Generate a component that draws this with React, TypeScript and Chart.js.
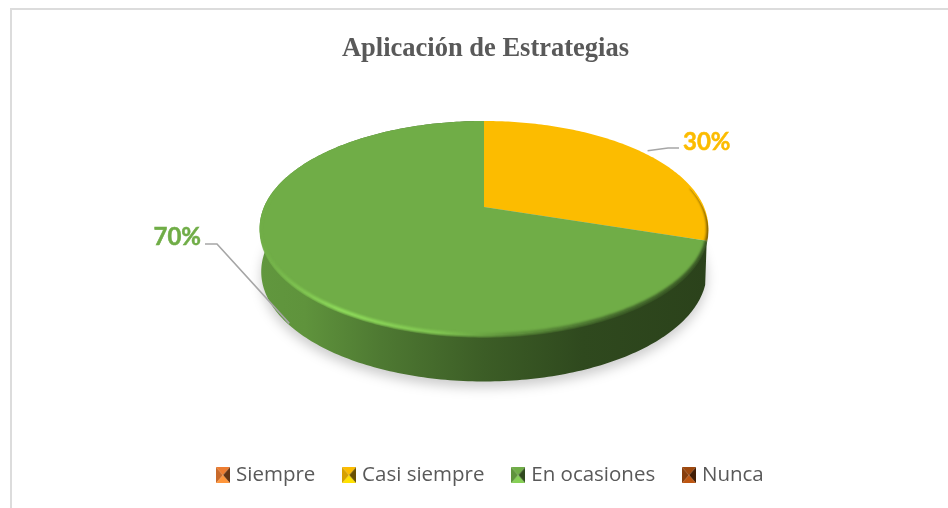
import React, { useEffect, useRef } from "react";
import { Chart, registerables } from "chart.js";

Chart.register(...registerables);

const categories = ["Siempre", "Casi siempre", "En ocasiones", "Nunca"];
const values = [0, 30, 70, 0];
const sliceColors = ["#ED7D31", "#FCBC00", "#70AD47", "#9E480E"];
const titleText = "Aplicación de Estrategias";

// Perspective view of the disc: unit circle -> screen
const VIEW = { cx: 484, a: 220, k: -0.196, A: 62.3, B: 207, depth: 43, depthFront: 3.5 };
const project = (ang: number, bottom = false) => {
  const u = Math.cos(ang), v = Math.sin(ang);
  const d = 1 + VIEW.k * v;
  const sx = bottom ? 0.993 : 1;
  const x = VIEW.cx + (VIEW.a * sx * u) / d;
  let y = (VIEW.A * v + VIEW.B) / d;
  if (bottom) y += VIEW.depth + VIEW.depthFront * v;
  return { x, y };
};

const rgb = (hex: string) => [1, 3, 5].map((i) => parseInt(hex.slice(i, i + 2), 16));
const shade = (hex: string, f: number) => {
  const [r, g, b] = rgb(hex).map((c) => Math.max(0, Math.min(255, Math.round(c * f))));
  return `rgb(${r},${g},${b})`;
};

const swatch = (hex: string) => {
  const c = document.createElement("canvas");
  const w = 14, h = 16;
  c.width = w; c.height = h;
  const x = c.getContext("2d")!;
  const tri = (ax: number, ay: number, bx: number, by: number, f: number) => {
    x.fillStyle = shade(hex, f);
    x.beginPath(); x.moveTo(ax, ay); x.lineTo(bx, by); x.lineTo(w / 2, h / 2); x.closePath(); x.fill();
  };
  tri(0, 0, w, 0, 1.0);
  tri(0, 0, 0, h, 0.85);
  tri(w, 0, w, h, 0.42);
  tri(0, h, w, h, 1.2);
  return c;
};

const tracePath = (ctx: CanvasRenderingContext2D, a0: number, a1: number, bottom: boolean, start = true) => {
  const n = Math.max(2, Math.ceil(Math.abs(a1 - a0) * 60));
  for (let i = 0; i <= n; i++) {
    const p = project(a0 + ((a1 - a0) * i) / n, bottom);
    if (i === 0 && start) ctx.moveTo(p.x, p.y);
    else ctx.lineTo(p.x, p.y);
  }
};

const discPlugin = {
  id: "disc3d",
  beforeDraw(chart: any) {
    if (chart.legend) {
      chart.legend.left = 0;
      chart.legend.right = 984;
      chart.legend.top = 434;
    }
  },
  beforeDatasetDraw(chart: any) {
    const ctx: CanvasRenderingContext2D = chart.ctx;
    const arcs = chart.getDatasetMeta(0).data.filter((e: any) => e.circumference > 0);
    ctx.save();
    // ground shadow
    ctx.save();
    ctx.filter = "blur(6px)";
    ctx.fillStyle = "rgba(0,0,0,0.2)";
    ctx.translate(0, 6);
    ctx.beginPath();
    tracePath(ctx, 0, Math.PI * 2, true);
    ctx.closePath();
    ctx.fill();
    ctx.restore();
    // wall: only slices that reach the front of the disc show one
    for (const el of arcs) {
      if (el.endAngle < Math.PI / 2) continue;
      const hex = el.options.backgroundColor;
      const g = ctx.createLinearGradient(260, 0, 708, 0);
      g.addColorStop(0, shade(hex, 0.87));
      g.addColorStop(0.1, shade(hex, 0.85));
      g.addColorStop(0.27, shade(hex, 0.7));
      g.addColorStop(0.5, shade(hex, 0.54));
      g.addColorStop(0.72, shade(hex, 0.42));
      g.addColorStop(1, shade(hex, 0.38));
      ctx.fillStyle = g;
      ctx.beginPath();
      tracePath(ctx, el.startAngle, el.endAngle, false);
      tracePath(ctx, el.endAngle, el.startAngle, true, false);
      ctx.closePath();
      ctx.fill();
    }
    // top face
    for (const el of arcs) {
      ctx.fillStyle = el.options.backgroundColor;
      ctx.beginPath();
      ctx.moveTo(VIEW.cx, VIEW.B);
      tracePath(ctx, el.startAngle, el.endAngle, false, false);
      ctx.closePath();
      ctx.fill();
    }
    // bevelled rim, kept inside the face outline shifted slightly down
    ctx.save();
    ctx.beginPath();
    const clipN = 360;
    for (let i = 0; i <= clipN; i++) {
      const p = project((i / clipN) * Math.PI * 2, false);
      if (i === 0) ctx.moveTo(p.x, p.y + 3);
      else ctx.lineTo(p.x, p.y + 3);
    }
    ctx.closePath();
    ctx.clip();
    for (const el of arcs) {
      const hex = el.options.backgroundColor;
      const g = ctx.createLinearGradient(260, 0, 708, 0);
      g.addColorStop(0, shade(hex, 1.0));
      g.addColorStop(0.18, shade(hex, 1.27));
      g.addColorStop(0.4, shade(hex, 1.14));
      g.addColorStop(0.55, shade(hex, 0.85));
      g.addColorStop(0.8, shade(hex, 0.6));
      g.addColorStop(1, shade(hex, 0.5));
      ctx.save();
      ctx.filter = "blur(0.8px)";
      ctx.strokeStyle = g;
      ctx.lineWidth = 4;
      const s = Math.max(el.startAngle, -0.2);
      const e = Math.min(el.endAngle, Math.PI * 1.04);
      ctx.beginPath();
      tracePath(ctx, s, e, false);
      ctx.stroke();
      ctx.restore();
    }
    ctx.restore();
    ctx.restore();
    return false;
  },
  afterDatasetsDraw(chart: any) {
    const ctx: CanvasRenderingContext2D = chart.ctx;
    const total = values.reduce((a, b) => a + b, 0);
    chart.getDatasetMeta(0).data.forEach((el: any, i: number) => {
      if (!(el.circumference > 0)) return;
      const mid = (el.startAngle + el.endAngle) / 2;
      const front = Math.sin(mid) > 0.3;
      const p = project(mid, front);
      const left = Math.cos(mid) < 0;
      const pct = `${Math.round((values[i] / total) * 100)}%`;
      ctx.save();
      ctx.strokeStyle = "#a6a6a6";
      ctx.lineWidth = 1.6;
      ctx.beginPath();
      if (left) {
        const sx = p.x + 5, sy = p.y + 3;
        ctx.moveTo(sx, sy);
        ctx.lineTo(217, 244);
        ctx.lineTo(205, 244);
      } else {
        const sx = p.x + 4, sy = p.y - 2;
        ctx.moveTo(sx, sy);
        ctx.lineTo(668, 148);
        ctx.lineTo(679, 148);
      }
      ctx.stroke();
      ctx.fillStyle = el.options.backgroundColor;
      ctx.strokeStyle = el.options.backgroundColor;
      ctx.lineWidth = 0.5;
      ctx.font = "bold 24px Lato";
      ctx.textBaseline = "middle";
      ctx.textAlign = left ? "right" : "left";
      const tx = left ? 201 : 683;
      const ty = left ? 237 : 142;
      ctx.fillText(pct, tx, ty);
      ctx.strokeText(pct, tx, ty);
      ctx.restore();
    });
  },
};

export default function App() {
  const ref = useRef<HTMLCanvasElement>(null);
  useEffect(() => {
    document.body.style.margin = "0";
    document.body.style.background = "#fff";
    const chart = new Chart(ref.current!, {
      type: "pie",
      data: {
        labels: categories,
        datasets: [{ data: values, backgroundColor: sliceColors, borderWidth: 0 }],
      },
      options: {
        responsive: false,
        animation: false,
        layout: { padding: { left: 23 } },
        plugins: {
          tooltip: { enabled: false },
          title: {
            display: true,
            text: titleText,
            color: "#595959",
            font: { family: "'Liberation Serif'", size: 26.5, weight: "bold" },
            padding: { top: 33, bottom: 20 },
          },
          legend: {
            display: true,
            position: "bottom",
            labels: {
              color: "#595959",
              font: { family: "'Open Sans'", size: 20.5 },
              usePointStyle: true,
              pointStyleWidth: 5.5,
              padding: 31,
              generateLabels: () =>
                categories.map((t, i) => ({
                  text: t,
                  pointStyle: swatch(sliceColors[i]),
                  fillStyle: sliceColors[i],
                  strokeStyle: sliceColors[i],
                  lineWidth: 0,
                  fontColor: "#595959",
                  index: i,
                  hidden: false,
                })),
            },
          },
        },
      },
      plugins: [discPlugin],
    } as any);
    return () => chart.destroy();
  }, []);
  return (
    <div style={{ position: "relative", width: 948, height: 508, overflow: "hidden" }}>
      <div
        style={{
          position: "absolute",
          left: 10,
          top: 8,
          width: 960,
          height: 520,
          borderTop: "2px solid #dcdcdc",
          borderLeft: "2px solid #dcdcdc",
        }}
      />
      <canvas ref={ref} width={948} height={508} style={{ position: "absolute", left: 0, top: 0, display: "block" }} />
    </div>
  );
}
